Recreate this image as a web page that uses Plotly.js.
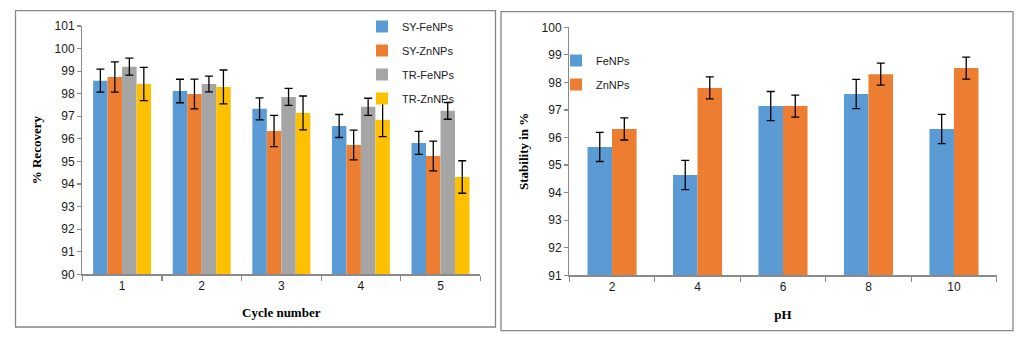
<!DOCTYPE html>
<html><head><meta charset="utf-8">
<script src="https://cdn.plot.ly/plotly-3.0.1.min.js"></script>
<style>html,body{margin:0;padding:0;background:#fff}#chart{width:1027px;height:343px}</style>
</head><body><div id="chart"></div>
<script>
// Left chart: % Recovery vs cycle number
const cycles = ['1','2','3','4','5'];
const syFe = [98.58, 98.12, 97.33, 96.57, 95.82];
const syFeErr = [0.51, 0.52, 0.49, 0.51, 0.51];
const syZn = [98.74, 97.99, 96.35, 95.73, 95.24];
const syZnErr = [0.67, 0.66, 0.69, 0.66, 0.66];
const trFe = [99.20, 98.43, 97.86, 97.42, 97.24];
const trFeErr = [0.38, 0.35, 0.38, 0.38, 0.37];
const trZn = [98.43, 98.30, 97.15, 96.84, 94.31];
const trZnErr = [0.74, 0.75, 0.75, 0.74, 0.72];

// Right chart: stability vs pH
const phs = ['2','4','6','8','10'];
const fe = [95.66, 94.64, 97.14, 97.58, 96.31];
const feErr = [0.53, 0.53, 0.53, 0.53, 0.53];
const zn = [96.31, 97.80, 97.14, 98.30, 98.52];
const znErr = [0.40, 0.40, 0.40, 0.40, 0.40];

const BLUE='#5B9BD5', ORANGE='#ED7D31', GRAY='#A5A5A5', YELLOW='#FFC000';
const W=1027, H=343;
function err(a){return {type:'data', array:a, visible:true, color:'#000', thickness:1.3, width:4};}
function bar(x,y,e,name,color,xa,ya,leg,grp,w,off){
  return {type:'bar', x:x, y:y, name:name, marker:{color:color, line:{width:0}},
    width:w, offset:off,
    error_y:err(e), xaxis:xa, yaxis:ya, legend:leg, legendgroup:grp};
}
const LW = 0.182, RW = 0.287;
const data = [
  bar(cycles, syFe, syFeErr, 'SY-FeNPs', BLUE, 'x', 'y', 'legend', 'a', LW, -2*LW),
  bar(cycles, syZn, syZnErr, 'SY-ZnNPs', ORANGE, 'x', 'y', 'legend', 'b', LW, -LW),
  bar(cycles, trFe, trFeErr, 'TR-FeNPs', GRAY, 'x', 'y', 'legend', 'c', LW, 0),
  bar(cycles, trZn, trZnErr, 'TR-ZnNPs', YELLOW, 'x', 'y', 'legend', 'd', LW, LW),
  bar(phs, fe, feErr, 'FeNPs', BLUE, 'x2', 'y2', 'legend2', 'e', RW, -RW),
  bar(phs, zn, znErr, 'ZnNPs', ORANGE, 'x2', 'y2', 'legend2', 'f', RW, 0)
];
const tickFont = {family:'Liberation Sans, Arial, sans-serif', size:12, color:'#1a1a1a'};
const titleFont = {family:'Liberation Serif, Times New Roman, serif', size:13, color:'#000', weight:'bold'};
const axisCol = '#8a8a8a';
function xax(domain, anchor, title, so){
  return {domain:domain, anchor:anchor, type:'category', tickson:'boundaries', ticks:'outside',
    ticklen:5, tickcolor:axisCol, tickwidth:1.2, showline:true, linecolor:axisCol, linewidth:1.3,
    showgrid:false, zeroline:false, tickfont:tickFont, fixedrange:true,
    title:{text:title, font:titleFont, standoff:so}};
}
function yax(domain, anchor, range, title){
  return {domain:domain, anchor:anchor, range:range, dtick:1, ticks:'outside', ticklen:4,
    tickcolor:axisCol, tickwidth:1.2, showline:true, linecolor:axisCol, linewidth:1.3,
    showgrid:false, zeroline:false, tickfont:tickFont, fixedrange:true,
    title:{text:title, font:titleFont, standoff:10}};
}
const legFont = {family:'Liberation Sans, Arial, sans-serif', size:11, color:'#1a1a1a'};
const layout = {
  width:W, height:H, margin:{l:0,r:0,t:0,b:0}, paper_bgcolor:'#fff', plot_bgcolor:'#fff',
  showlegend:true, barmode:'group', bargap:0.27, bargroupgap:0,
  xaxis: xax([82.3/W, 480.3/W], 'y', 'Cycle number', 16),
  yaxis: yax([1-274.3/H, 1-26/H], 'x', [90,101], '% Recovery'),
  xaxis2: xax([569.3/W, 996.7/W], 'y2', 'pH', 17),
  yaxis2: yax([1-275.3/H, 1-27.3/H], 'x2', [91,100], 'Stability in %'),
  legend: {x:362/W, y:1-12/H, xanchor:'left', yanchor:'top', bgcolor:'rgba(0,0,0,0)',
    font:legFont, traceorder:'grouped', tracegroupgap:5, itemclick:false},
  legend2: {x:556/W, y:1-46/H, xanchor:'left', yanchor:'top', bgcolor:'rgba(0,0,0,0)',
    font:legFont, traceorder:'grouped', tracegroupgap:5, itemclick:false},
  shapes: [
    {type:'rect', xref:'paper', yref:'paper', x0:15.5/W, x1:495.5/W, y0:1-327/H, y1:1-10.7/H,
      line:{color:'#878787', width:1.3}, fillcolor:'rgba(0,0,0,0)', layer:'below'},
    {type:'rect', xref:'paper', yref:'paper', x0:501/W, x1:1013/W, y0:1-330.7/H, y1:1-11.7/H,
      line:{color:'#878787', width:1.3}, fillcolor:'rgba(0,0,0,0)', layer:'below'}
  ]
};
Plotly.newPlot('chart', data, layout, {displayModeBar:false, staticPlot:true});
</script></body></html>
